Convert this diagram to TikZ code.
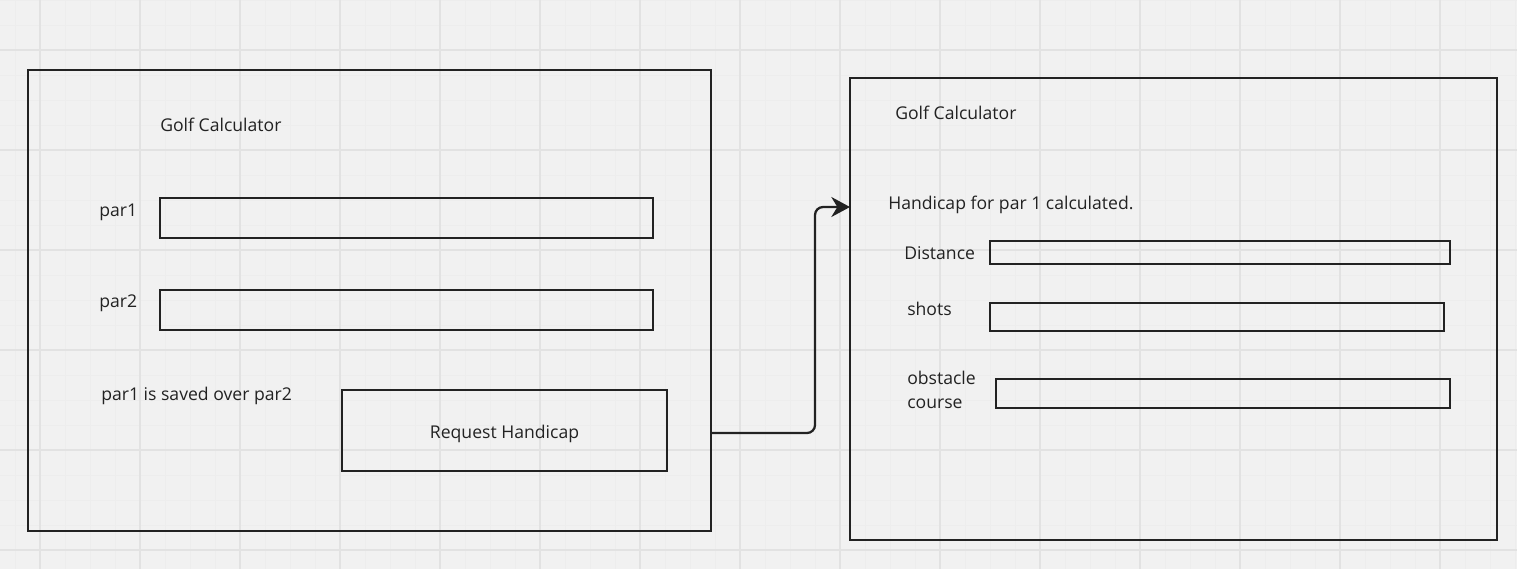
\documentclass[tikz,border=0pt]{standalone}
\usepackage{fontspec}
\setmainfont{Open Sans}
\usetikzlibrary{arrows.meta}
\definecolor{bg}{HTML}{F1F1F1}
\definecolor{gmajor}{HTML}{E2E2E2}
\definecolor{gminor}{HTML}{EDEDED}
\definecolor{ink}{HTML}{222222}
\tikzset{
  frame/.style={draw=ink, line width=2.0pt, rectangle, inner sep=0pt},
  field/.style={draw=ink, line width=2.0pt, rectangle, inner sep=0pt},
  lbl/.style={text=ink, inner sep=0pt, anchor=west, font=\fontsize{13.2pt}{16pt}\selectfont},
  conn/.style={draw=ink, line width=1.7pt, rounded corners=6pt, -{Stealth[length=14pt,width=15pt,inset=4.5pt]}}
}
\begin{document}
\begin{tikzpicture}[x=0.75pt,y=-0.75pt]
\useasboundingbox (0,0) rectangle (1517,569);
\fill[bg] (0,0) rectangle (1517,569);
% minor grid
\foreach \x in {15,40,...,1515} \draw[gminor, line width=0.5pt] (\x,0) -- (\x,569);
\foreach \y in {0,25,...,569} \draw[gminor, line width=0.5pt] (0,\y) -- (1517,\y);
% major grid
\foreach \x in {40,140,...,1517} \draw[gmajor, line width=0.9pt] (\x,0) -- (\x,569);
\foreach \y in {50,150,...,569} \draw[gmajor, line width=0.9pt] (0,\y) -- (1517,\y);

% left frame
\node[frame, minimum width=683*0.75pt, minimum height=461*0.75pt] (lf) at (369.5,300.5) {};
\node[lbl] (lt) at (160,125) {Golf Calculator};
\node[lbl] (p1l) at (99,212) {par1};
\node[field, minimum width=493*0.75pt, minimum height=40*0.75pt] (p1) at (406.5,218) {};
\node[lbl] (p2l) at (99,303) {par2};
\node[field, minimum width=493*0.75pt, minimum height=40*0.75pt] (p2) at (406.5,310) {};
\node[lbl] (sv) at (101,396) {par1 is saved over par2};
\node[field, minimum width=325*0.75pt, minimum height=81*0.75pt] (btn) at (504.5,430.5) {};
\node[lbl, anchor=center] (btnt) at (504.5,434) {Request Handicap};

% right frame
\node[frame, minimum width=647*0.75pt, minimum height=462*0.75pt] (rf) at (1173.5,309) {};
\node[lbl] (rt) at (895,113) {Golf Calculator};
\node[lbl] (hc) at (888,205) {Handicap for par 1 calculated.};
\node[lbl] (dl) at (904,253) {Distance};
\node[field, minimum width=460*0.75pt, minimum height=23*0.75pt] (df) at (1220,252.5) {};
\node[lbl] (sl) at (907,308.5) {shots};
\node[field, minimum width=454*0.75pt, minimum height=28*0.75pt] (sf) at (1217,317) {};
\node[lbl, align=left, font=\fontsize{13.2pt}{18.5pt}\selectfont] (ol) at (907,390) {obstacle\\course};
\node[field, minimum width=454*0.75pt, minimum height=29*0.75pt] (of) at (1223,393.5) {};

% connector
\coordinate (a1) at (711,433);
\coordinate (a2) at (850,207);
\draw[conn] (a1) -- (815,433) -- (815,207) -- (a2);
\end{tikzpicture}
\end{document}
